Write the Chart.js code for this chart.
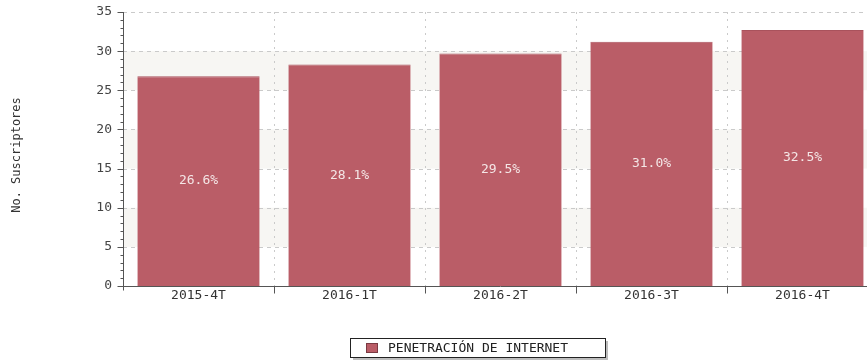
<!DOCTYPE html>
<html>
<head>
<meta charset="utf-8">
<script src="https://cdn.jsdelivr.net/npm/chart.js@4"></script>
<style>
  html, body { margin: 0; padding: 0; background: #fff; overflow: hidden; }
  #wrap { width: 880px; height: 364px; }
</style>
</head>
<body>
<div id="wrap"><canvas id="myChart" width="880" height="364"></canvas></div>
<script>
// datos
const categories = ['2015-4T', '2016-1T', '2016-2T', '2016-3T', '2016-4T'];
const penetracion = [26.8, 28.3, 29.7, 31.2, 32.7];
const etiquetas = ['26.6%', '28.1%', '29.5%', '31.0%', '32.5%'];
const yTicks = [0, 5, 10, 15, 20, 25, 30, 35];
const serieNombre = 'PENETRACIÓN DE INTERNET';
const ejeY = 'No. Suscriptores';

const MONO = '"DejaVu Sans Mono", "Liberation Mono", monospace';
const barColor = '#ba5d67';

// fondo, rejilla, ejes, etiquetas y leyenda
const decoPlugin = {
    id: 'deco',
    beforeDatasetsDraw(chart) {
        const { ctx, chartArea: a, scales: { x, y } } = chart;
        ctx.save();
        // bandas alternas
        ctx.fillStyle = '#f7f6f3';
        for (let i = 0; i < yTicks.length - 1; i++) {
            if ((yTicks.length - 2 - i) % 2 === 1) {
                const top = y.getPixelForValue(yTicks[i + 1]);
                const bot = y.getPixelForValue(yTicks[i]);
                ctx.fillRect(a.left, top, a.right - a.left, bot - top);
            }
        }
        // rejilla punteada
        ctx.strokeStyle = '#cacaca';
        ctx.lineWidth = 1;
        ctx.setLineDash([4, 4]);
        yTicks.forEach(v => {
            if (v === 0) return;
            const py = Math.round(y.getPixelForValue(v)) + 0.5;
            ctx.beginPath(); ctx.moveTo(a.left, py); ctx.lineTo(a.right, py); ctx.stroke();
        });
        ctx.setLineDash([2, 5]);
        for (let i = 1; i <= categories.length; i++) {
            const px = Math.round(a.left + (a.right - a.left) * i / categories.length) + 0.5;
            ctx.beginPath(); ctx.moveTo(px, a.top); ctx.lineTo(px, a.bottom); ctx.stroke();
        }
        ctx.restore();
    },
    afterDatasetsDraw(chart) {
        const { ctx, chartArea: a, scales: { x, y } } = chart;
        const ds = chart.getDatasetMeta(0);
        ctx.save();
        // ejes
        ctx.strokeStyle = '#555';
        ctx.lineWidth = 1;
        const lx = Math.round(a.left) + 0.5;
        const by = Math.round(a.bottom) + 0.5;
        ctx.beginPath(); ctx.moveTo(lx, a.top); ctx.lineTo(lx, by + 4); ctx.stroke();
        ctx.beginPath(); ctx.moveTo(a.left, by); ctx.lineTo(a.right, by); ctx.stroke();
        // marcas menores y mayores del eje y
        for (let v = 0; v <= 35; v++) {
            const py = Math.round(y.getPixelForValue(v)) + 0.5;
            const len = v % 5 === 0 ? 6 : 3;
            ctx.beginPath(); ctx.moveTo(lx - len, py); ctx.lineTo(lx, py); ctx.stroke();
        }
        // marcas del eje x
        for (let i = 1; i <= categories.length; i++) {
            const px = Math.round(a.left + (a.right - a.left) * i / categories.length) + 0.5;
            ctx.beginPath(); ctx.moveTo(px, by); ctx.lineTo(px, by + 7); ctx.stroke();
        }
        // etiquetas dentro de las barras
        ctx.fillStyle = '#f4e6e6';
        ctx.font = '13px ' + MONO;
        ctx.textAlign = 'center';
        ctx.textBaseline = 'middle';
        ds.data.forEach((bar, i) => {
            ctx.fillText(etiquetas[i], bar.x, y.getPixelForValue(penetracion[i] / 2));
        });
        // titulo del eje y
        ctx.save();
        ctx.translate(17, (a.top + a.bottom) / 2 + 6);
        ctx.rotate(-Math.PI / 2);
        ctx.fillStyle = '#333';
        ctx.font = '12px ' + MONO;
        ctx.fillText(ejeY, 0, 0);
        ctx.restore();
        // leyenda
        const lgX = 350, lgY = 338, lgW = 255, lgH = 19;
        ctx.fillStyle = '#bdbdbd';
        ctx.fillRect(lgX + 3, lgY + 3, lgW, lgH);
        ctx.fillStyle = '#fff';
        ctx.fillRect(lgX, lgY, lgW, lgH);
        ctx.strokeStyle = '#222';
        ctx.strokeRect(lgX + 0.5, lgY + 0.5, lgW, lgH);
        ctx.fillStyle = barColor;
        ctx.fillRect(366, 343, 12, 10);
        ctx.strokeStyle = '#7a3a42';
        ctx.strokeRect(366.5, 343.5, 11, 9);
        ctx.fillStyle = '#222';
        ctx.font = '13px ' + MONO;
        ctx.textAlign = 'left';
        ctx.fillText(serieNombre, 388, lgY + lgH / 2 + 1);
        ctx.restore();
    }
};

const ctx = document.getElementById('myChart');
new Chart(ctx, {
    type: 'bar',
    data: {
        labels: categories,
        datasets: [{
            label: serieNombre,
            data: penetracion,
            backgroundColor: barColor,
            borderColor: '#a9525c',
            borderWidth: { top: 1, left: 0, right: 0, bottom: 0 },
            barPercentage: 0.81,
            categoryPercentage: 1.0
        }]
    },
    options: {
        responsive: false,
        animation: false,
        layout: { padding: { top: 0, right: 2, left: 0, bottom: 0 } },
        plugins: { legend: { display: false }, tooltip: { enabled: false } },
        scales: {
            x: {
                grid: { display: false, drawTicks: false },
                border: { display: false },
                ticks: { color: '#333', font: { family: MONO, size: 13 }, padding: 2, maxRotation: 0 },
                afterFit(scale) { scale.height = 78; }
            },
            y: {
                min: 0,
                max: 35,
                grid: { display: false, drawTicks: false },
                border: { display: false },
                ticks: { stepSize: 5, color: '#444', font: { family: MONO, size: 13 }, padding: 11 },
                afterFit(scale) {
                    scale.width = 123;
                    scale.paddingTop = 12;
                    scale.paddingBottom = 0;
                }
            }
        }
    },
    plugins: [decoPlugin]
});
</script>
</body>
</html>
